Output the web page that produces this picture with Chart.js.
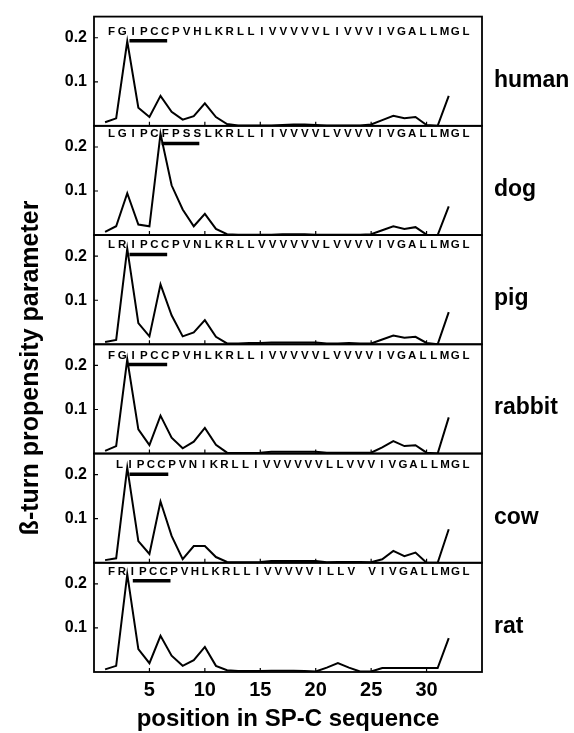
<!DOCTYPE html>
<html>
<head>
<meta charset="utf-8">
<script src="https://cdn.jsdelivr.net/npm/chart.js@4/dist/chart.umd.min.js"></script>
<style>
  html, body { margin: 0; padding: 0; background: #fff; }
  #wrap { position: relative; width: 574px; height: 733px; }
</style>
</head>
<body>
<div id="wrap"><canvas id="chart"></canvas></div>
<script>
// residue positions along SP-C
const positions = [1, 2, 3, 4, 5, 6, 7, 8, 9, 10, 11, 12, 13, 14, 15, 16, 17, 18, 19, 20, 21, 22, 23, 24, 25, 26, 27, 28, 29, 30, 31, 32];

const species = ['human', 'dog', 'pig', 'rabbit', 'cow', 'rat'];

const human  = [0.008, 0.017, 0.192, 0.041, 0.020, 0.068, 0.032, 0.014, 0.022, 0.051, 0.020, 0.004, 0.001, 0.001, 0.001, 0.001, 0.002, 0.003, 0.003, 0.002, 0.001, 0.001, 0.001, 0.001, 0.003, 0.013, 0.023, 0.017, 0.020, 0.002, 0.000, 0.068];
const dog    = [0.007, 0.020, 0.095, 0.024, 0.020, 0.230, 0.113, 0.058, 0.020, 0.048, 0.014, 0.002, 0.001, 0.001, 0.001, 0.001, 0.002, 0.002, 0.002, 0.001, 0.001, 0.001, 0.001, 0.001, 0.002, 0.011, 0.020, 0.014, 0.018, 0.001, 0.000, 0.065];
const pig    = [0.005, 0.010, 0.217, 0.048, 0.018, 0.136, 0.066, 0.018, 0.027, 0.055, 0.017, 0.002, 0.002, 0.003, 0.003, 0.004, 0.004, 0.004, 0.004, 0.004, 0.002, 0.002, 0.003, 0.002, 0.002, 0.011, 0.020, 0.015, 0.017, 0.003, 0.000, 0.073];
const rabbit = [0.006, 0.017, 0.214, 0.055, 0.019, 0.086, 0.036, 0.012, 0.027, 0.058, 0.020, 0.002, 0.001, 0.001, 0.002, 0.004, 0.004, 0.004, 0.004, 0.004, 0.002, 0.002, 0.002, 0.002, 0.002, 0.014, 0.028, 0.017, 0.019, 0.002, 0.000, 0.082];
const cow    = [0.006, 0.010, 0.216, 0.049, 0.020, 0.139, 0.061, 0.008, 0.038, 0.038, 0.013, 0.002, 0.001, 0.001, 0.002, 0.004, 0.004, 0.004, 0.004, 0.004, 0.001, 0.002, 0.002, 0.002, 0.001, 0.008, 0.027, 0.015, 0.023, 0.000, 0.000, 0.076];
const rat    = [0.006, 0.014, 0.222, 0.052, 0.020, 0.082, 0.037, 0.014, 0.027, 0.057, 0.014, 0.004, 0.002, 0.002, 0.002, 0.003, 0.003, 0.003, 0.002, 0.001, 0.010, 0.020, 0.010, 0.001, 0.001, 0.009, 0.009, 0.009, 0.009, 0.009, 0.009, 0.077];

// sequences printed at the top of each panel, and where they start on the x axis
const sequences = [
  'FGIPCCPVHLKRLLIVVVVVLIVVVIVGALLMGL',
  'LGIPCFPSSLKRLLIIVVVVLVVVVIVGALLMGL',
  'LRIPCCPVNLKRLLVVVVVVLVVVVIVGALLMGL',
  'FGIPCCPVHLKRLLIVVVVVLVVVVIVGALLMGL',
  'LIPCCPVNIKRLLIVVVVVVLLVVVIVGALLMGL',
  'FRIPCCPVHLKRLLIVVVVVILLV VIVGALLMGL'
];
const seqStart = [1.58, 1.58, 1.58, 1.58, 2.3, 1.58];
const seqEnd = 33.55;

// underlined motif: from, to, level
const motifFrom  = [3.2, 6.1, 3.2, 3.1, 3.2, 3.5];
const motifTo    = [6.6, 9.5, 6.6, 6.6, 6.7, 6.9];
const motifLevel = [0.193, 0.208, 0.204, 0.202, 0.201, 0.207];

const xTicks = [5, 10, 15, 20, 25, 30];
const yTicks = [0.1, 0.2];
const yMax = 0.248;

const series = [human, dog, pig, rabbit, cow, rat];
const FONT = '"Liberation Sans", Arial, Helvetica, sans-serif';

const axisIds = species.map(s => 'y_' + s);

const datasets = [];
series.forEach((vals, i) => {
  datasets.push({
    data: positions.map((p, j) => ({ x: p, y: vals[j] })),
    yAxisID: axisIds[i],
    borderColor: '#000',
    borderWidth: 2,
    pointRadius: 0,
    tension: 0,
    fill: false
  });
  datasets.push({
    data: [{ x: motifFrom[i], y: motifLevel[i] }, { x: motifTo[i], y: motifLevel[i] }],
    yAxisID: axisIds[i],
    borderColor: '#000',
    borderWidth: 3.5,
    borderCapStyle: 'butt',
    pointRadius: 0,
    fill: false
  });
});

const scales = {
  x: {
    type: 'linear',
    min: 0,
    max: 35,
    grid: { display: false, drawTicks: false },
    border: { display: false },
    afterBuildTicks: (s) => { s.ticks = xTicks.map(v => ({ value: v })); },
    afterFit: (s) => { s.height = 61; },
    ticks: {
      color: '#000',
      padding: 6,
      font: { family: FONT, size: 20, weight: 'bold' }
    }
  }
};

// later-defined left axes end up on top of the stack, so define bottom-up
for (let i = species.length - 1; i >= 0; i--) {
  scales[axisIds[i]] = {
    type: 'linear',
    position: 'left',
    stack: 'panels',
    stackWeight: 1,
    min: 0,
    max: yMax,
    grid: { display: false, drawTicks: false },
    border: { display: false },
    afterBuildTicks: (s) => { s.ticks = yTicks.map(v => ({ value: v })); },
    afterFit: (s) => { s.width = 94; },
    ticks: {
      color: '#000',
      padding: 7,
      font: { family: FONT, size: 16, weight: 'bold' },
      callback: (v) => v.toFixed(1)
    }
  };
}

const decorations = {
  id: 'decorations',
  afterDraw(chart) {
    const ctx = chart.ctx;
    const xs = chart.scales.x;
    const left = chart.chartArea.left;
    const right = chart.chartArea.right;
    ctx.save();
    ctx.strokeStyle = '#000';
    ctx.fillStyle = '#000';

    species.forEach((name, i) => {
      const ys = chart.scales[axisIds[i]];
      // frame
      ctx.lineWidth = 1.8;
      ctx.strokeRect(left, ys.top, right - left, ys.bottom - ys.top);
      // inward ticks
      ctx.lineWidth = 1.2;
      ctx.beginPath();
      yTicks.forEach(v => {
        const py = ys.getPixelForValue(v);
        ctx.moveTo(left, py);
        ctx.lineTo(left + 4, py);
      });
      xTicks.forEach(v => {
        const px = xs.getPixelForValue(v);
        ctx.moveTo(px, ys.bottom);
        ctx.lineTo(px, ys.bottom - 4);
      });
      ctx.stroke();

      // sequence letters
      const seq = sequences[i];
      const step = (seqEnd - seqStart[i]) / (seq.length - 1);
      const baseY = ys.getPixelForValue(motifLevel[i]) - 6;
      ctx.font = 'bold 11.5px ' + FONT;
      ctx.textAlign = 'center';
      ctx.textBaseline = 'alphabetic';
      for (let k = 0; k < seq.length; k++) {
        if (seq[k] === ' ') continue;
        ctx.fillText(seq[k], xs.getPixelForValue(seqStart[i] + k * step), baseY);
      }

      // species label
      ctx.font = 'bold 23px ' + FONT;
      ctx.textAlign = 'left';
      ctx.fillText(name, 494, ys.top + 70);
    });

    // axis titles
    ctx.font = 'bold 24px ' + FONT;
    ctx.textAlign = 'center';
    ctx.textBaseline = 'middle';
    ctx.fillText('position in SP-C sequence', (left + right) / 2, 719);

    ctx.save();
    ctx.translate(31, 368);
    ctx.rotate(-Math.PI / 2);
    ctx.font = 'bold 25px ' + FONT;
    ctx.fillText('ß-turn propensity parameter', 0, 0);
    ctx.restore();

    ctx.restore();
  }
};

new Chart(document.getElementById('chart'), {
  type: 'line',
  data: { datasets },
  options: {
    responsive: true,
    maintainAspectRatio: false,
    animation: false,
    layout: { padding: { top: 14, right: 92, bottom: 0, left: 0 } },
    plugins: {
      legend: { display: false },
      tooltip: { enabled: false }
    },
    scales
  },
  plugins: [decorations]
});
</script>
</body>
</html>
